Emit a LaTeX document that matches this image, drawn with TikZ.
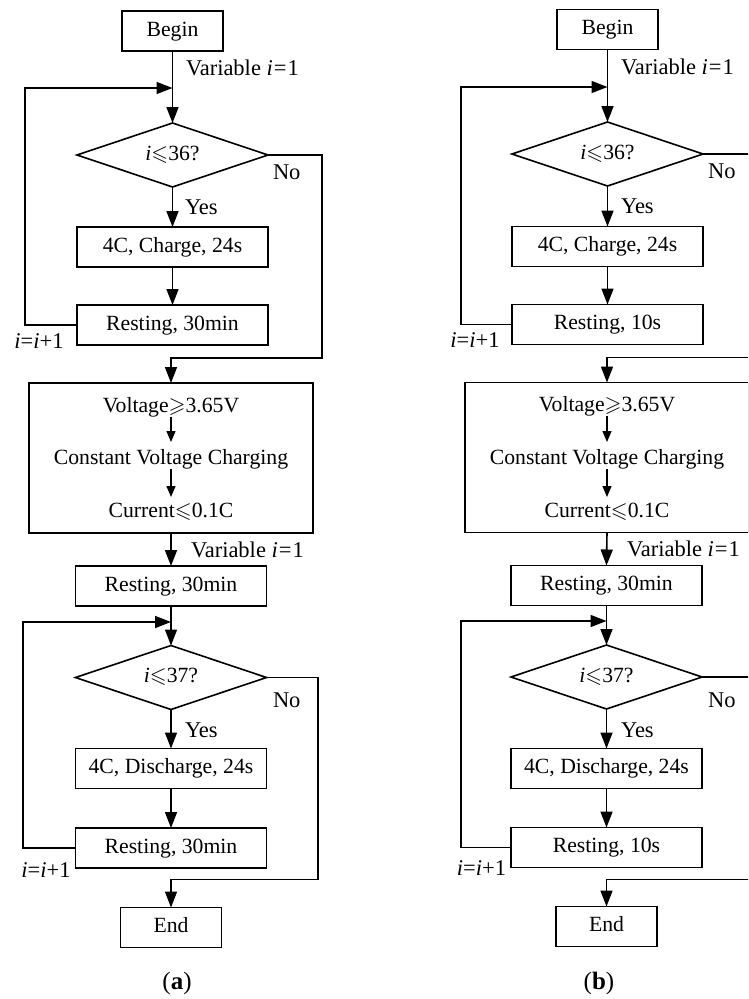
\documentclass[tikz,border=0pt]{standalone}
\usepackage{amssymb}
\usepackage{fontspec}
\setmainfont{Liberation Serif}
\usetikzlibrary{arrows.meta,shapes.geometric}
\begin{document}
\begin{tikzpicture}[x=1pt,y=-1pt,
  every node/.style={font=\fontsize{21.7}{26}\selectfont, inner sep=0pt, outer sep=0pt},
  box/.style={draw, line width=1.6pt, minimum width=191pt, minimum height=40pt, text height=15pt, text depth=5pt},
  smallbox/.style={box, minimum width=101pt},
  dia/.style={draw, diamond, shape aspect=3, line width=1.6pt, minimum width=191pt, minimum height=64pt, text height=15pt, text depth=5pt},
  bigbox/.style={draw, line width=1.6pt, minimum width=284pt, minimum height=150pt},
  lbl/.style={text height=15pt, text depth=5pt, font=\fontsize{22.5}{27}\selectfont},
  cvtext/.style={text height=15pt, text depth=5pt},
  capt/.style={font=\fontsize{25}{30}\selectfont},
  flow/.style={line width=1.6pt, -{Triangle[length=16pt,width=12pt]}},
  small/.style={line width=1.4pt, -{Triangle[length=11pt,width=9pt]}}
]
\useasboundingbox (0,0) rectangle (748,999);
\clip (0,0) rectangle (748,999);

% ================= panel (a) =================
\node[smallbox] (beginA) at (172.5,31) {Begin};
\node[dia] (dA1) at (172.5,155) {\textit{i}$\leqslant$36?};
\node[box] (chargeA) at (172.5,247) {4C, Charge, 24s};
\node[box] (rest1A) at (172.5,325) {Resting, 30min};
\node[bigbox] (cvA) at (171,458) {};
\node[cvtext] (vA) at (171,407) {Voltage$\geqslant$3.65V};
\node[cvtext] (ccA) at (171,459) {Constant Voltage Charging};
\node[cvtext] (curA) at (171,512) {Current$\leqslant$0.1C};
\node[box] (rest2A) at (171,586) {Resting, 30min};
\node[dia] (dA2) at (171,677.5) {\textit{i}$\leqslant$37?};
\node[box] (dischA) at (171,768.5) {4C, Discharge, 24s};
\node[box] (rest3A) at (171,848) {Resting, 30min};
\node[smallbox] (endA) at (171,927.5) {End};

\node[lbl, anchor=west] (varA1) at (186,70) {Variable \textit{i}\kern1pt=\kern1pt1};
\node[lbl, anchor=west] (noA1) at (273,174) {No};
\node[lbl, anchor=west] (yesA1) at (185,209) {Yes};
\node[lbl] (incA1) at (39,343) {\textit{i}=\textit{i}+1};
\node[lbl, anchor=west] (varA2) at (191,552) {Variable \textit{i}\kern1pt=\kern1pt1};
\node[lbl, anchor=west] (noA2) at (273,702) {No};
\node[lbl, anchor=west] (yesA2) at (185,732) {Yes};
\node[lbl] (incA2) at (46,872) {\textit{i}=\textit{i}+1};
\node[capt] (capA) at (177,983) {(\textbf{a})};

\coordinate (jA1) at (172.5,88);
\coordinate (jA2) at (171,622);
\coordinate (nA1) at ([yshift=25pt]cvA.north);
\coordinate (nA2) at ([yshift=28pt]endA.north);

\draw[flow] (beginA.south) -- (dA1.north);
\draw[flow] (dA1.south) -- (chargeA.north);
\draw[flow] (chargeA.south) -- (rest1A.north);
\draw[flow] (rest1A.west) -- ++(-52,0) |- (jA1);
\draw[flow] (dA1.east) -- ++(54,0) |- (nA1) -- (cvA.north);
\draw[small] (vA.south) -- ([yshift=7pt]ccA.north);
\draw[small] (ccA.south) -- ([yshift=5pt]curA.north);
\draw[flow] (cvA.south) -- (rest2A.north);
\draw[flow] (rest2A.south) -- (dA2.north);
\draw[flow] (dA2.south) -- (dischA.north);
\draw[flow] (dischA.south) -- (rest3A.north);
\draw[flow] (rest3A.west) -- ++(-52.5,0) |- (jA2);
\draw[flow] (dA2.east) -- ++(51.5,0) |- (nA2) -- (endA.north);

% ================= panel (b) =================
\node[smallbox] (beginB) at (607.5,29.5) {Begin};
\node[dia] (dB1) at (607.5,154) {\textit{i}$\leqslant$36?};
\node[box] (chargeB) at (607.5,246.5) {4C, Charge, 24s};
\node[box] (rest1B) at (607.5,324.5) {Resting, 10s};
\node[bigbox] (cvB) at (607,457.5) {};
\node[cvtext] (vB) at (607,406) {Voltage$\geqslant$3.65V};
\node[cvtext] (ccB) at (607,459) {Constant Voltage Charging};
\node[cvtext] (curB) at (607,512) {Current$\leqslant$0.1C};
\node[box] (rest2B) at (606.5,585.5) {Resting, 30min};
\node[dia] (dB2) at (606.5,677) {\textit{i}$\leqslant$37?};
\node[box] (dischB) at (606.5,768.5) {4C, Discharge, 24s};
\node[box] (rest3B) at (606.5,847.5) {Resting, 10s};
\node[smallbox] (endB) at (606.5,926.5) {End};

\node[lbl, anchor=west] (varB1) at (621,69) {Variable \textit{i}\kern1pt=\kern1pt1};
\node[lbl, anchor=west] (noB1) at (708,173) {No};
\node[lbl, anchor=west] (yesB1) at (621,208) {Yes};
\node[lbl] (incB1) at (475,342) {\textit{i}=\textit{i}+1};
\node[lbl, anchor=west] (varB2) at (627,551) {Variable \textit{i}\kern1pt=\kern1pt1};
\node[lbl, anchor=west] (noB2) at (708,702) {No};
\node[lbl, anchor=west] (yesB2) at (621,732) {Yes};
\node[lbl] (incB2) at (481.5,870) {\textit{i}=\textit{i}+1};
\node[capt] (capB) at (599,983) {(\textbf{b})};

\coordinate (jB1) at (607.5,87);
\coordinate (jB2) at (606.5,621);
\coordinate (nB1) at ([yshift=25pt]cvB.north);
\coordinate (nB2) at ([yshift=27pt]endB.north);

\draw[flow] (beginB.south) -- (dB1.north);
\draw[flow] (dB1.south) -- (chargeB.north);
\draw[flow] (chargeB.south) -- (rest1B.north);
\draw[flow] (rest1B.west) -- ++(-51,0) |- (jB1);
\draw[flow] (dB1.east) -- ++(55,0) |- (nB1) -- (cvB.north);
\draw[small] (vB.south) -- ([yshift=7pt]ccB.north);
\draw[small] (ccB.south) -- ([yshift=5pt]curB.north);
\draw[flow] (cvB.south) -- (rest2B.north);
\draw[flow] (rest2B.south) -- (dB2.north);
\draw[flow] (dB2.south) -- (dischB.north);
\draw[flow] (dischB.south) -- (rest3B.north);
\draw[flow] (rest3B.west) -- ++(-50,0) |- (jB2);
\draw[flow] (dB2.east) -- ++(56,0) |- (nB2) -- (endB.north);
\end{tikzpicture}
\end{document}
